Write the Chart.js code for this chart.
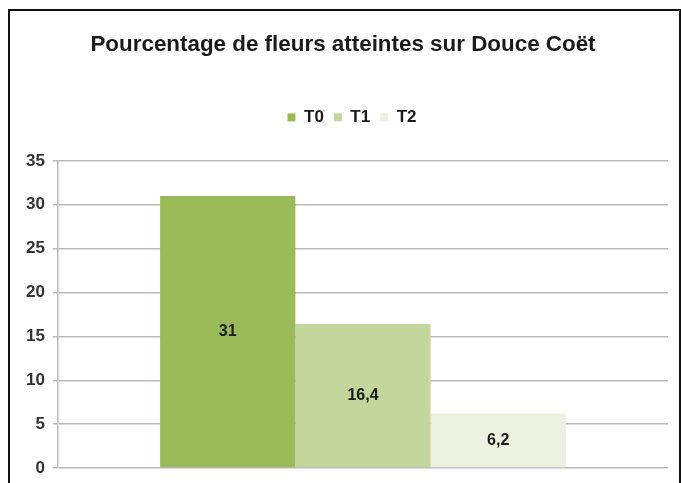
<!DOCTYPE html>
<html>
<head>
<meta charset="utf-8">
<script src="https://cdn.jsdelivr.net/npm/chart.js@4/dist/chart.umd.min.js"></script>
<style>
  html, body { margin: 0; padding: 0; background: #ffffff; }
  #wrap { position: relative; width: 681px; height: 483px; overflow: hidden; }
  #c { position: absolute; left: 0; top: 0; }
  #frame { position: absolute; left: 8px; top: 9px; width: 669px; height: 480px;
           border: 2px solid #111; border-bottom: none; pointer-events: none; }
</style>
</head>
<body>
<div id="wrap">
  <canvas id="c" width="681" height="483"></canvas>
  <div id="frame"></div>
</div>
<script>
// ---- data ----
const chartTitle = "Pourcentage de fleurs atteintes sur Douce Coët";
const categories = [""];
const seriesNames = ["T0", "T1", "T2"];
const seriesValues = [[31], [16.4], [6.2]];
const seriesColors = ["#9BBB59", "#C3D69B", "#EBF1DE"];
const yTicks = [0, 5, 10, 15, 20, 25, 30, 35];

const FONT = "'Liberation Sans', Arial, Helvetica, sans-serif";

const legendSpacer = {
  id: 'legendSpacer',
  beforeInit(chart) {
    const lg = chart.legend;
    const origFit = lg.fit;
    lg.fit = function () {
      origFit.bind(lg)();
      this.height += 25;
    };
    const origDraw = lg.draw;
    lg.draw = function () {
      const ctx = chart.ctx;
      ctx.save();
      ctx.translate(9, 0);
      origDraw.bind(lg)();
      ctx.restore();
    };
  }
};

const valueLabels = {
  id: 'valueLabels',
  afterDatasetsDraw(chart) {
    const ctx = chart.ctx;
    ctx.save();
    ctx.font = "bold 16px " + FONT;
    ctx.fillStyle = "#1a1a1a";
    ctx.textAlign = "center";
    ctx.textBaseline = "middle";
    chart.data.datasets.forEach((ds, i) => {
      const meta = chart.getDatasetMeta(i);
      meta.data.forEach((el, j) => {
        const v = ds.data[j];
        const txt = String(v).replace('.', ',');
        ctx.fillText(txt, el.x, (el.y + el.base) / 2);
      });
    });
    ctx.restore();
  }
};

new Chart(document.getElementById('c'), {
  type: 'bar',
  data: {
    labels: categories,
    datasets: seriesNames.map((n, i) => ({
      label: n,
      data: seriesValues[i],
      backgroundColor: seriesColors[i],
      borderWidth: 0,
      barPercentage: 1,
      categoryPercentage: 0.665
    }))
  },
  options: {
    responsive: false,
    animation: false,
    devicePixelRatio: 1,
    layout: { padding: { left: 18, right: 13, top: 10, bottom: 15 } },
    plugins: {
      title: {
        display: true,
        text: chartTitle,
        color: "#1a1a1a",
        font: { family: FONT, size: 22.4, weight: 'bold' },
        padding: { top: 21, bottom: 41 }
      },
      legend: {
        display: true,
        position: 'top',
        labels: {
          boxWidth: 8,
          boxHeight: 8,
          padding: 10,
          color: "#1a1a1a",
          font: { family: FONT, size: 17, weight: 'bold' }
        }
      },
      tooltip: { enabled: false }
    },
    scales: {
      x: { display: false },
      y: {
        min: 0,
        max: 35,
        afterBuildTicks(axis) { axis.ticks = yTicks.map(v => ({ value: v })); },
        ticks: {
          padding: 8,
          color: "#333333",
          font: { family: FONT, size: 17, weight: 'bold', lineHeight: 0.8 }
        },
        grid: { color: "#bababa", lineWidth: 1.5, tickLength: 5, drawTicks: true },
        border: { display: true, color: "#bababa", width: 1.5 }
      }
    }
  },
  plugins: [legendSpacer, valueLabels]
});
</script>
</body>
</html>
